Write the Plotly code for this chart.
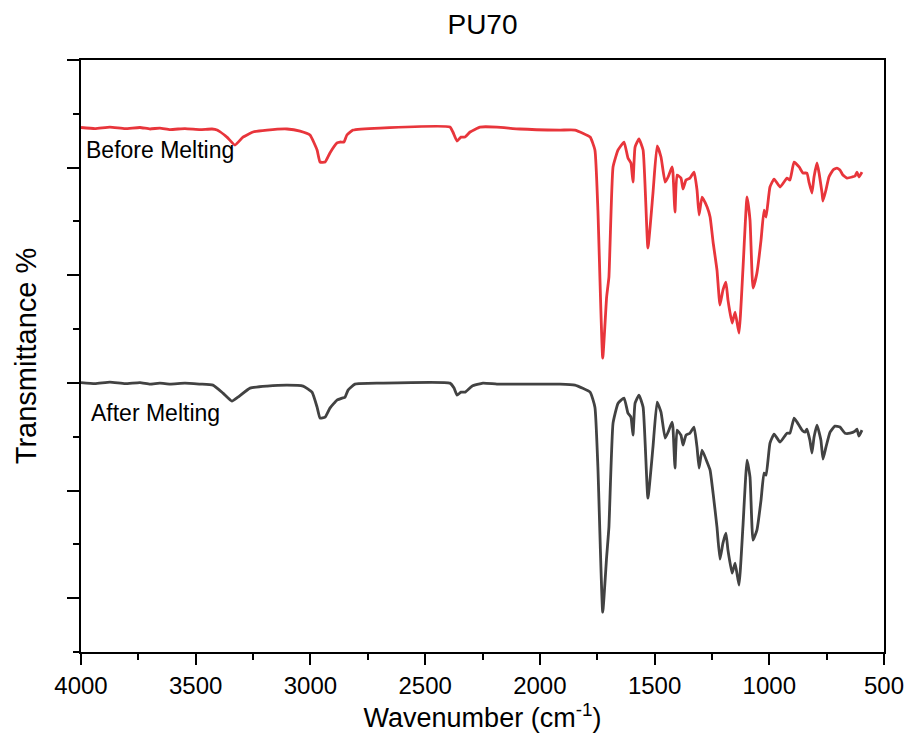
import plotly.graph_objects as go

# FTIR spectra of PU70, stacked (arbitrary transmittance units)
wn_before = [4000, 3939, 3874, 3808, 3743, 3699, 3656, 3612, 3547, 3481, 3429, 3407, 3364, 3329, 3294,
             3250, 3189, 3102, 3045, 3002, 2971, 2958, 2936, 2915, 2884, 2871, 2854, 2841, 2814, 2697,
             2392, 2379, 2361, 2344, 2326, 2304, 2261, 2187, 2087, 1912, 1847, 1781, 1760, 1747, 1726,
             1709, 1699, 1681, 1659, 1633, 1616, 1603, 1594, 1585, 1568, 1550, 1529, 1507, 1489, 1472,
             1454, 1441, 1424, 1420, 1411, 1402, 1385, 1376, 1363, 1346, 1328, 1315, 1306, 1293, 1271,
             1258, 1245, 1228, 1215, 1202, 1189, 1180, 1162, 1149, 1132, 1115, 1097, 1084, 1071, 1054,
             1036, 1023, 1014, 997, 979, 953, 923, 910, 892, 870, 853, 836, 827, 814, 805,
             792, 783, 770, 766, 753, 740, 722, 705, 692, 679, 661, 639, 626, 618, 609, 596]
t_before = [437.3, 436.3, 437.7, 436.3, 437.3, 435.9, 436.8, 435.4, 436.3, 435.4, 435.9, 434.9, 428.4, 421.0, 428.4,
            433.1, 434.9, 435.9, 434.0, 430.3, 416.4, 405.2, 405.2, 413.6, 422.9, 423.8, 423.8, 430.3, 434.9, 436.8,
            437.7, 433.1, 424.7, 428.4, 428.4, 433.1, 437.7, 437.7, 435.9, 434.9, 434.9, 428.4, 416.4, 360.6, 223.0,
            279.7, 298.3, 400.6, 416.4, 423.8, 408.9, 404.3, 386.6, 419.1, 426.6, 416.4, 325.3, 376.4, 420.1, 409.9,
            386.6, 391.3, 400.6, 395.9, 358.7, 393.1, 390.3, 380.1, 388.5, 390.3, 395.9, 379.2, 356.0, 372.7, 363.4,
            354.1, 330.9, 304.8, 272.3, 286.2, 293.7, 276.9, 255.6, 265.8, 246.3, 304.8, 372.7, 351.3, 288.1, 302.0,
            332.7, 360.6, 354.1, 382.0, 389.4, 382.0, 390.3, 388.5, 405.2, 400.6, 395.0, 395.0, 386.6, 376.4, 391.3,
            404.3, 395.0, 376.4, 369.0, 379.2, 391.3, 397.8, 399.6, 397.8, 393.1, 390.3, 391.3, 392.2, 395.9, 391.3, 395.9]

wn_after = [4000, 3939, 3874, 3808, 3743, 3699, 3656, 3612, 3547, 3481, 3425, 3381, 3342, 3316, 3263,
            3189, 3102, 3032, 2993, 2971, 2958, 2936, 2915, 2884, 2862, 2849, 2836, 2806, 2697, 2392,
            2374, 2361, 2344, 2326, 2296, 2248, 2187, 2087, 1912, 1847, 1781, 1760, 1747, 1726, 1709,
            1699, 1681, 1659, 1633, 1616, 1603, 1594, 1585, 1568, 1550, 1529, 1507, 1489, 1472, 1454,
            1441, 1424, 1420, 1411, 1402, 1385, 1376, 1363, 1346, 1328, 1315, 1306, 1293, 1271, 1258,
            1245, 1228, 1215, 1202, 1189, 1180, 1162, 1149, 1132, 1115, 1097, 1084, 1071, 1054, 1036,
            1023, 1014, 997, 979, 953, 923, 910, 892, 879, 857, 844, 836, 823, 814, 805,
            792, 775, 766, 753, 735, 714, 692, 670, 648, 626, 618, 609, 596]
t_after = [200.3, 199.3, 200.7, 199.3, 200.3, 198.9, 199.8, 198.9, 199.8, 198.9, 197.9, 190.5, 183.1, 186.8, 195.2,
           197.0, 197.9, 197.0, 191.4, 177.5, 167.3, 168.2, 176.6, 184.0, 185.9, 186.8, 193.3, 198.9, 199.8, 199.8,
           195.2, 188.7, 191.4, 191.4, 197.0, 199.8, 198.9, 198.9, 198.9, 197.9, 191.4, 177.5, 121.7, -13.0, 38.1,
           66.0, 162.6, 181.2, 185.9, 171.9, 168.2, 151.5, 181.2, 188.7, 177.5, 92.9, 140.3, 182.2, 172.9, 148.7,
           154.3, 163.6, 158.9, 120.8, 156.1, 151.5, 142.2, 151.5, 153.3, 158.9, 140.3, 120.8, 137.5, 126.4, 119.0,
           97.6, 66.0, 36.2, 51.1, 60.4, 44.6, 23.2, 32.5, 12.1, 66.0, 128.3, 112.5, 53.9, 63.2, 91.1,
           116.2, 114.3, 144.1, 152.4, 145.0, 153.3, 153.3, 167.3, 163.6, 156.1, 154.3, 157.1, 146.8, 134.8, 149.6,
           160.8, 146.8, 129.2, 140.3, 154.3, 159.9, 159.0, 153.3, 153.3, 155.2, 157.1, 150.6, 156.1]

labels = ["Before Melting", "After Melting"]
title_text = "PU70"
x_title = "Wavenumber (cm<sup>-1</sup>)"
y_title = "Transmittance %"

FONT = "Liberation Sans, Arial, sans-serif"

fig = go.Figure()
fig.add_trace(go.Scatter(x=wn_before, y=t_before, mode="lines",
                         line=dict(color="#e8353b", width=2.8, shape="spline", smoothing=0.4),
                         showlegend=False, hoverinfo="skip"))
fig.add_trace(go.Scatter(x=wn_after, y=t_after, mode="lines",
                         line=dict(color="#424242", width=2.8, shape="spline", smoothing=0.4),
                         showlegend=False, hoverinfo="skip"))

# curve labels placed just below each baseline
fig.add_annotation(x=3985, y=t_before[0] - 21, text=labels[0], showarrow=False,
                   xanchor="left", yanchor="middle", font=dict(family=FONT, size=23, color="black"))
fig.add_annotation(x=3965, y=t_after[0] - 28, text=labels[1], showarrow=False,
                   xanchor="left", yanchor="middle", font=dict(family=FONT, size=23, color="black"))

fig.update_layout(
    width=910, height=751,
    margin=dict(l=81, r=26, t=60, b=99, autoexpand=False),
    paper_bgcolor="white", plot_bgcolor="white",
    font=dict(family=FONT, color="black"),
    title=dict(text=title_text, x=0.5, xref="paper", xanchor="center", y=0.968, yanchor="middle",
               font=dict(family=FONT, size=28, color="black")),
)

fig.update_xaxes(
    range=[4000, 500], autorange=False, automargin=False,
    tick0=500, dtick=500, ticks="outside", ticklen=11, tickwidth=2, tickcolor="black",
    minor=dict(dtick=250, ticks="outside", ticklen=6, tickwidth=2, tickcolor="black"),
    showline=True, linecolor="black", linewidth=2, mirror=True,
    showgrid=False, zeroline=False,
    tickfont=dict(family=FONT, size=24, color="black"),
    title=dict(text=x_title, font=dict(family=FONT, size=27, color="black"), standoff=10),
)
fig.update_yaxes(
    range=[-50, 500], autorange=False, automargin=False,
    tick0=0, dtick=100, ticks="outside", ticklen=12, tickwidth=2, tickcolor="black",
    minor=dict(dtick=50, ticks="outside", ticklen=6, tickwidth=2, tickcolor="black"),
    showticklabels=False,
    showline=True, linecolor="black", linewidth=2, mirror=True,
    showgrid=False, zeroline=False,
    title=dict(text=y_title, font=dict(family=FONT, size=29, color="black"), standoff=22),
)

fig.write_html("out.html")
